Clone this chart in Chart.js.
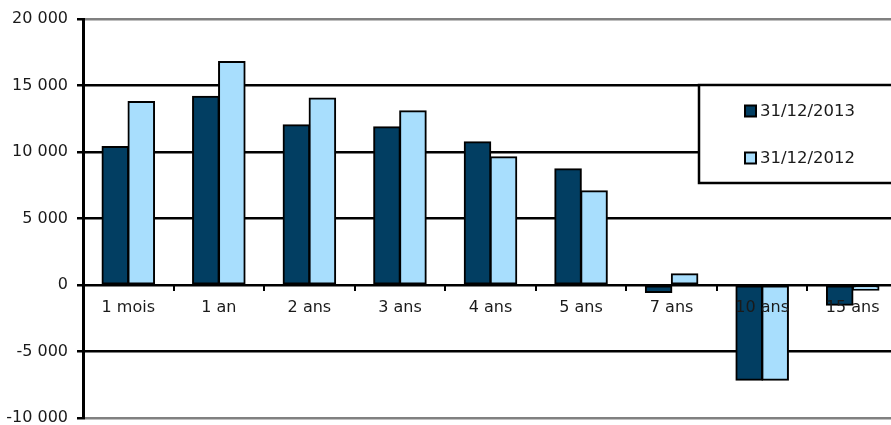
<!DOCTYPE html>
<html><head><meta charset="utf-8">
<script src="https://cdn.jsdelivr.net/npm/chart.js@4"></script>
<style>
html,body{margin:0;padding:0;background:#fff;}
#clip{width:891px;height:425px;overflow:hidden;position:relative;}
#wrap{width:910px;height:425px;position:absolute;left:0;top:0;}
</style></head>
<body>
<div id="clip"><div id="wrap"><canvas id="c"></canvas></div></div>
<script>
const categories = ["1 mois","1 an","2 ans","3 ans","4 ans","5 ans","7 ans","10 ans","15 ans"];
const series2013 = [10400,14160,12030,11880,10750,8720,-550,-7140,-1500];
const series2012 = [13780,16790,14040,13080,9620,7070,830,-7140,-380];
const seriesNames = ["31/12/2013","31/12/2012"];
const seriesColors = ["#023E62","#A8DEFD"];
const yTicks = [-10000,-5000,0,5000,10000,15000,20000];

const FONT = "'DejaVu Sans', sans-serif";
function fmt(v){
  const s = Math.abs(v).toString().replace(/\B(?=(\d{3})+(?!\d))/g,' ');
  return (v<0?'-':'') + s;
}

const legendPlugin = {
  id:'boxLegend',
  afterDraw(chart){
    const ctx = chart.ctx;
    const x = 699, y = 85, w = 240, h = 98;
    ctx.save();
    ctx.fillStyle = '#fff';
    ctx.fillRect(x, y, w, h);
    ctx.strokeStyle = '#000';
    ctx.lineWidth = 2.5;
    ctx.strokeRect(x, y, w, h);
    ctx.font = "16.5px " + FONT;
    ctx.textBaseline = 'middle';
    ctx.textAlign = 'left';
    const rows = [111, 158];
    chart.data.datasets.forEach((ds, i) => {
      const cy = rows[i];
      ctx.fillStyle = ds.backgroundColor;
      ctx.fillRect(745, cy-5.5, 11, 11);
      ctx.strokeStyle = '#000';
      ctx.lineWidth = 2;
      ctx.strokeRect(745, cy-5.5, 11, 11);
      ctx.fillStyle = '#1a1a1a';
      ctx.fillText(ds.label, 760, cy+1);
    });
    ctx.restore();
  }
};

const barStyle = {borderColor:'#000', borderWidth:2, borderSkipped:false, barPercentage:1, categoryPercentage:0.574, inflateAmount:0.8};

new Chart(document.getElementById('c'), {
  type:'bar',
  data:{
    labels: categories,
    datasets:[
      Object.assign({label: seriesNames[0], data: series2013, backgroundColor: seriesColors[0]}, barStyle),
      Object.assign({label: seriesNames[1], data: series2012, backgroundColor: seriesColors[1]}, barStyle)
    ]
  },
  options:{
    responsive:true,
    maintainAspectRatio:false,
    animation:false,
    layout:{padding:{top:19,bottom:7,left:0,right:12}},
    plugins:{legend:{display:false}, tooltip:{enabled:false}},
    scales:{
      x:{
        type:'category',
        position:{y:0},
        offset:true,
        grid:{offset:true, drawOnChartArea:false, drawTicks:true, tickLength:5, color:'#000', lineWidth:2},
        border:{display:true, color:'#000', width:2},
        ticks:{z:1, padding:8, color:'#1a1a1a', font:{family:FONT, size:16}, maxRotation:0, autoSkip:false}
      },
      y:{
        min:-10000, max:20000,
        afterBuildTicks(scale){ scale.ticks = yTicks.map(v=>({value:v})); },
        afterFit(scale){ scale.width = 83; scale.paddingTop = 0; scale.paddingBottom = 0; },
        grid:{
          color:(c)=> (c.tick && (c.tick.value===20000 || c.tick.value===-10000)) ? '#808080' : '#000',
          lineWidth:2.5, drawTicks:true, tickLength:6, tickColor:'#000', tickWidth:2.5
        },
        border:{display:true, color:'#000', width:3},
        ticks:{padding:9, color:'#1a1a1a', font:{family:FONT, size:16}, callback:(v)=>fmt(v)}
      }
    }
  },
  plugins:[legendPlugin]
});
</script>
</body></html>
